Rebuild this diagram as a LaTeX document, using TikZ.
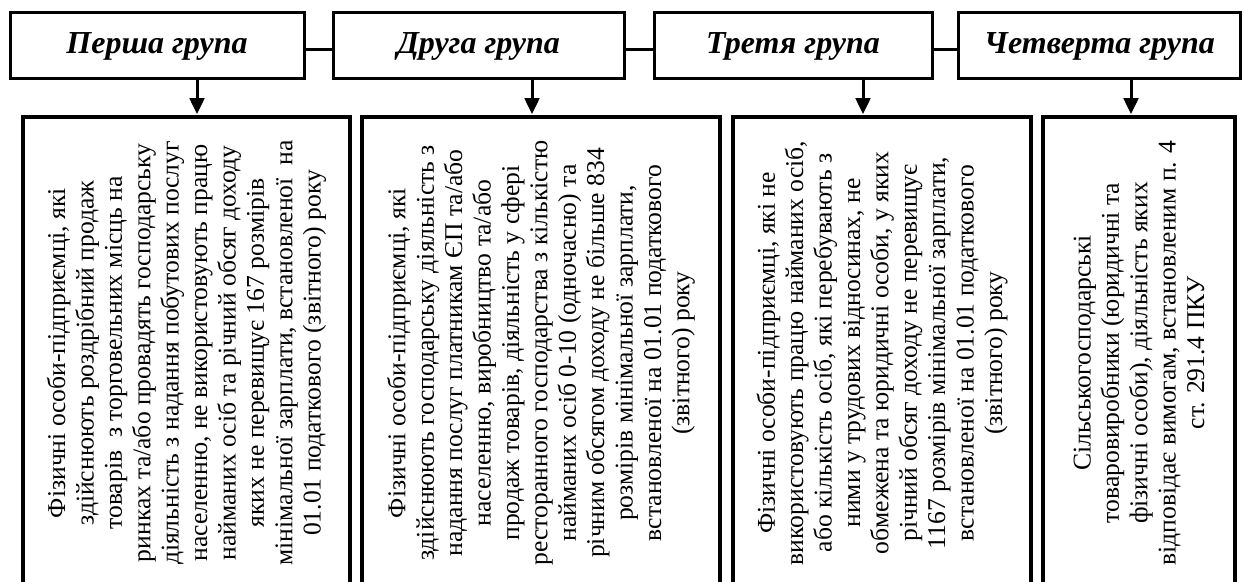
\documentclass[tikz,border=0pt]{standalone}
\usepackage{fontspec}
\setmainfont{Liberation Serif}
\usetikzlibrary{arrows.meta}
\begin{document}
\begin{tikzpicture}[x=0.5pt,y=-0.5pt,
  hdr/.style={draw, line width=1.5pt, minimum width=#1, minimum height=33pt, inner sep=0pt,
    font=\fontsize{16}{19}\selectfont\bfseries\itshape},
  body/.style={draw, line width=1.6pt, rotate=90, minimum height=#1, minimum width=236pt,
    inner sep=0pt, align=center, font=\fontsize{12.8}{14.2}\selectfont},
  conn/.style={line width=1.5pt},
  arr/.style={line width=1.5pt, -{Triangle[width=7.3pt,length=8pt]}, shorten >=0.6pt}]
\useasboundingbox (0,0) rectangle (1244,582);
\clip (0,0) rectangle (1244,582);

\node[hdr=147pt]   (h1) at (157,46)   {Перша група};
\node[hdr=145.5pt] (h2) at (478.5,46) {Друга група};
\node[hdr=139pt]   (h3) at (793,46)   {Третя група};
\node[hdr=141pt]   (h4) at (1099.5,46) {Четверта група};

\node[body=163.5pt] (b1) at (186.5,353) {Фізичні особи-підприємці, які\\
здійснюють роздрібний продаж\\
товарів\ \ з торговельних місць на\\
ринках та/або провадять господарську\\
діяльність з надання побутових послуг\\
населенню, не використовують працю\\
найманих осіб та річний обсяг доходу\\
яких не перевищує 167 розмірів\\
мінімальної зарплати, встановленої\ \ на\\
01.01 податкового (звітного) року};

\node[body=179pt] (b2) at (541,353) {Фізичні особи-підприємці, які\\
здійснюють господарську діяльність з\\
надання послуг платникам ЄП та/або\\
населенню, виробництво та/або\\
продаж товарів, діяльність у сфері\\
ресторанного господарства з кількістю\\
найманих осіб 0-10 (одночасно) та\\
річним обсягом доходу не більше 834\\
розмірів мінімальної зарплати,\\
встановленої на 01.01 податкового\\
(звітного) року};

\node[body=149pt] (b3) at (882,353) {Фізичні особи-підприємці, які не\\
використовують працю найманих осіб,\\
або кількість осіб, які перебувають з\\
ними у трудових відносинах, не\\
обмежена та юридичні особи, у яких\\
річний обсяг доходу не перевищує\\
1167 розмірів мінімальної зарплати,\\
встановленої на 01.01 податкового\\
(звітного) року};

\node[body=96pt] (b4) at (1139,353) {Сільськогосподарські\\
товаровиробники (юридичні та\\
фізичні особи), діяльність яких\\
відповідає вимогам, встановленим п. 4\\
ст. 291.4 ПКУ};

\coordinate (cy) at (0,50);
\draw[conn] (h1.east |- cy) -- (h2.west |- cy);
\draw[conn] (h2.east |- cy) -- (h3.west |- cy);
\draw[conn] (h3.east |- cy) -- (h4.west |- cy);

\coordinate (x1) at (197,0);
\coordinate (x2) at (532,0);
\coordinate (x3) at (863,0);
\coordinate (x4) at (1131,0);
\draw[arr] (h1.south -| x1) -- (b1.east -| x1);
\draw[arr] (h2.south -| x2) -- (b2.east -| x2);
\draw[arr] (h3.south -| x3) -- (b3.east -| x3);
\draw[arr] (h4.south -| x4) -- (b4.east -| x4);
\end{tikzpicture}
\end{document}
